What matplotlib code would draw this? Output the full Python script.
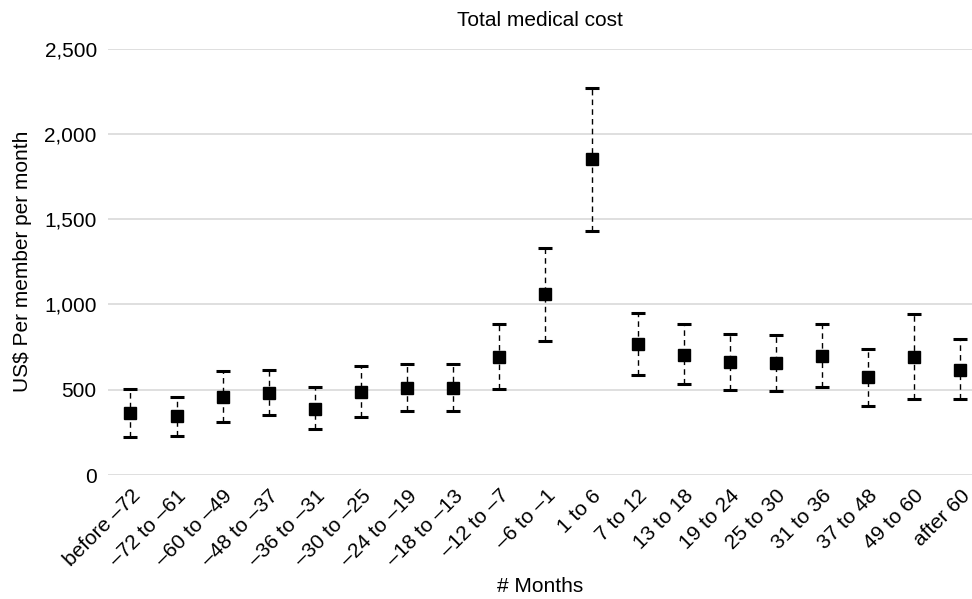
import matplotlib
matplotlib.use('Agg')
from matplotlib import pyplot as plt
import numpy as np

plt.rcParams['font.family'] = ['Liberation Sans', 'DejaVu Sans']

months = ['before \u201372', '\u201372 to \u201361', '\u201360 to \u201349', '\u201348 to \u201337',
          '\u201336 to \u201331', '\u201330 to \u201325', '\u201324 to \u201319', '\u201318 to \u201313',
          '\u201312 to \u20137', '\u20136 to \u20131', '1 to 6', '7 to 12', '13 to 18', '19 to 24',
          '25 to 30', '31 to 36', '37 to 48', '49 to 60', 'after 60']
cost = [362, 344, 459, 481, 389, 488, 508, 508, 692, 1061, 1850, 768, 703, 660, 656, 697, 572, 690, 617]
upper = [504, 459, 611, 614, 518, 641, 649, 649, 885, 1331, 2270, 948, 883, 828, 822, 883, 740, 942, 797]
lower = [221, 230, 312, 352, 270, 338, 373, 373, 502, 787, 1430, 586, 532, 500, 494, 516, 404, 445, 444]

fig = plt.figure(figsize=(9.72, 5.99), dpi=100)
ax = fig.add_axes([0.111, 0.207, 0.889, 0.712])

x = np.arange(len(months))
cost = np.array(cost)
yerr = [cost - np.array(lower), np.array(upper) - cost]
line, caps, bars = ax.errorbar(x, cost, yerr=yerr, fmt='s', color='black', markersize=9,
                               ecolor='black', elinewidth=1, capsize=4.7, capthick=2.2, zorder=3)
bars[0].set_linestyle((0, (4, 3)))

ax.set_xlim(-0.49, 18.25)
ax.set_ylim(0, 2500)
ax.set_yticks([0, 500, 1000, 1500, 2000, 2500])
ax.set_yticklabels(['0', '500', '1,000', '1,500', '2,000', '2,500'])
ax.set_xticks(x)
ax.set_xticklabels(months, rotation=45, ha='right', rotation_mode='anchor')
ax.tick_params(axis='both', length=0, labelsize=15)
ax.tick_params(axis='y', pad=8)
ax.tick_params(axis='x', pad=8)
ax.yaxis.grid(True, color='#d9d9d9', linewidth=1.2)
ax.set_axisbelow(True)
for s in ax.spines.values():
    s.set_visible(False)

ax.set_title('Total medical cost', fontsize=15, pad=16)
ax.set_ylabel('US$ Per member per month', fontsize=15)
ax.yaxis.set_label_coords(-0.088, 0.5)
ax.set_xlabel('# Months', fontsize=15)
ax.xaxis.set_label_coords(0.5, -0.24)

fig.savefig('out.png', dpi=100)
